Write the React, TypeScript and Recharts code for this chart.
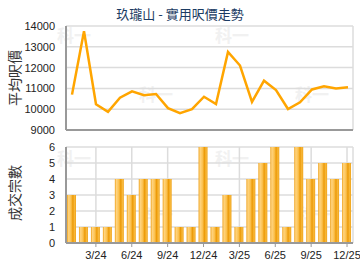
import { ComposedChart, BarChart, Line, Bar, XAxis, YAxis, CartesianGrid } from 'recharts';

const months = [
  '1/24', '2/24', '3/24', '4/24', '5/24', '6/24', '7/24', '8/24', '9/24', '10/24', '11/24', '12/24',
  '1/25', '2/25', '3/25', '4/25', '5/25', '6/25', '7/25', '8/25', '9/25', '10/25', '11/25', '12/25',
];
const avgPrice = [
  10700, 13750, 10240, 9870, 10550, 10860, 10670, 10730, 10050, 9810, 10000, 10600,
  10250, 12750, 12100, 10350, 11370, 10920, 10010, 10330, 10950, 11100, 11000, 11050,
];
const deals = [3, 1, 1, 1, 4, 3, 4, 4, 4, 1, 1, 6, 1, 3, 1, 4, 5, 6, 1, 6, 4, 5, 4, 5];
const xTicks = ['3/24', '6/24', '9/24', '12/24', '3/25', '6/25', '9/25', '12/25'];
const priceTicks = [9000, 10000, 11000, 12000, 13000, 14000];
const dealTicks = [0, 1, 2, 3, 4, 5, 6];

// faint watermark spots (left, top)
const marks = [
  [57, 26], [215, 26], [139, 85], [295, 85],
  [57, 149], [215, 149], [139, 205], [297, 205],
];

const rows = months.map((m, i) => ({ month: m, price: avgPrice[i], deals: deals[i] }));

const font = '"Liberation Sans", Arial, "Noto Sans CJK TC", sans-serif';
const tickStyle = { fontSize: 11, fill: '#222', fontFamily: font };

const sideLabel = (text: string, top: number) => (
  <div
    style={{
      position: 'absolute',
      left: 14,
      top,
      transform: 'translate(-50%, -50%) rotate(-90deg)',
      fontSize: 14,
      color: '#333',
      fontFamily: '"Noto Sans CJK TC", sans-serif',
      whiteSpace: 'nowrap',
    }}
  >
    {text}
  </div>
);

export default function App() {
  return (
    <div style={{ position: 'absolute', left: 0, top: 0, width: 360, height: 270, background: '#fff' }}>
      {marks.map(([x, y], i) => (
        <div
          key={i}
          style={{
            position: 'absolute',
            left: x,
            top: y,
            fontSize: 17,
            fontWeight: 'bold',
            color: '#f1f1f1',
            fontFamily: '"Noto Sans CJK TC", sans-serif',
            lineHeight: '17px',
          }}
        >
          科一
        </div>
      ))}
      <div
        style={{
          position: 'absolute',
          left: 0,
          width: 360,
          top: 6,
          lineHeight: '16px',
          textAlign: 'center',
          fontSize: 13,
          color: '#1b3b63',
          fontFamily: '"Noto Sans CJK TC", sans-serif',
        }}
      >
        玖瓏山 - 實用呎價走勢
      </div>
      {sideLabel('平均呎價', 78)}
      {sideLabel('成交宗數', 193)}

      <div style={{ position: 'absolute', left: 0, top: 0 }}>
        <ComposedChart width={360} height={140} data={rows} margin={{ top: 26, right: 7, bottom: 8, left: 6 }}>
          <CartesianGrid stroke="#dcdcdc" strokeWidth={1.5} />
          <XAxis
            dataKey="month"
            ticks={xTicks}
            interval={0}
            height={2}
            tick={false}
            tickLine={false}
            padding={{ left: 6, right: 5 }}
            axisLine={{ stroke: '#999', strokeWidth: 2 }}
          />
          <YAxis
            width={60}
            domain={[9000, 14000]}
            ticks={priceTicks}
            interval={0}
            tickLine={false}
            tickSize={0}
            tickMargin={11}
            tick={tickStyle}
            axisLine={{ stroke: '#999', strokeWidth: 2 }}
          />
          <Line dataKey="price" stroke="#ffa500" strokeWidth={2.5} dot={false} isAnimationActive={false} />
        </ComposedChart>
      </div>

      <div style={{ position: 'absolute', left: 0, top: 135 }}>
        <BarChart width={360} height={135} data={rows} margin={{ top: 12, right: 7, bottom: 0, left: 6 }}>
          <defs>
            <linearGradient id="barFill" x1="0" y1="0" x2="1" y2="0">
              <stop offset="0%" stopColor="#efa21c" />
              <stop offset="18%" stopColor="#ffd480" />
              <stop offset="45%" stopColor="#fbc14f" />
              <stop offset="65%" stopColor="#ec9a08" />
              <stop offset="85%" stopColor="#f8b93c" />
              <stop offset="100%" stopColor="#eea015" />
            </linearGradient>
          </defs>
          <CartesianGrid stroke="#dcdcdc" strokeWidth={1.5} />
          <XAxis
            dataKey="month"
            ticks={xTicks}
            interval={0}
            height={27}
            tickSize={4}
            tickMargin={4}
            tick={tickStyle}
            tickLine={{ stroke: '#999' }}
            axisLine={{ stroke: '#999', strokeWidth: 2 }}
          />
          <YAxis
            width={60}
            domain={[0, 6]}
            ticks={dealTicks}
            interval={0}
            tickLine={false}
            tickSize={0}
            tickMargin={11}
            tick={tickStyle}
            axisLine={{ stroke: '#999', strokeWidth: 2 }}
          />
          <Bar dataKey="deals" fill="url(#barFill)" barSize={9} isAnimationActive={false} />
        </BarChart>
      </div>
    </div>
  );
}
